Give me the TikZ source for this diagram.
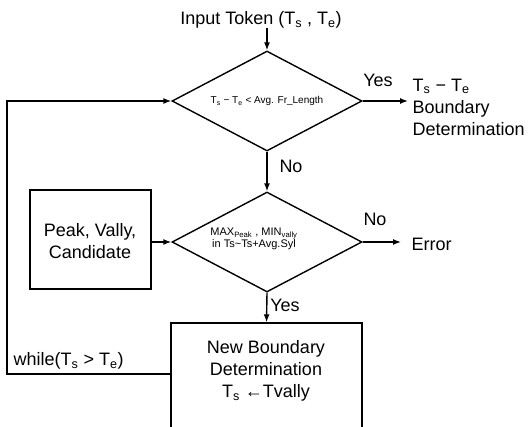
\documentclass[tikz,border=0pt]{standalone}
\usepackage{fontspec}
\setmainfont{Liberation Sans}
\usetikzlibrary{shapes.geometric,arrows.meta}
\begin{document}
\begin{tikzpicture}[x=1pt,y=-1pt,
  line width=1.4pt,
  big/.style={font=\fontsize{18}{22}\selectfont, inner sep=0pt},
  small/.style={font=\fontsize{11}{12}\selectfont, inner sep=0pt},
  smaller/.style={font=\fontsize{10}{12}\selectfont, inner sep=0pt},
  dia/.style={draw, diamond, aspect=1.9, minimum width=190pt, minimum height=100pt, inner sep=0pt},
  boxx/.style={draw, rectangle, inner sep=0pt},
  arr/.style={-{Latex[length=8pt,width=6pt]}}]
\path[use as bounding box] (0,0) rectangle (529,426);
\clip (0,0) rectangle (529,426);

\node[big] (input) at (261,20) {Input Token (T\textsubscript{s} , T\textsubscript{e})};
\node[dia, smaller] (d1) at (267,101) {T\textsubscript{s} − T\textsubscript{e} < Avg. Fr\_Length};
\coordinate (inp) at (267,28);
\draw[arr] (inp) -- (d1.north);

\node[big] (yes1) at (378,80) {Yes};
\coordinate (yes1end) at (408,101);
\draw[arr] (d1.east) -- (yes1end);
\node[big, anchor=west, align=left] (bd) at (412,107) {T\textsubscript{s} − T\textsubscript{e}\\Boundary\\Determination};

\node[dia] (d2) at (267,242) {};
\node[small, align=center] (d2t) at (254,239) {MAX\textsubscript{Peak} , MIN\textsubscript{vally}\\in Ts\textasciitilde Ts+Avg.Syl};
\draw[arr] (d1.south) -- (d2.north);
\node[big] (no1) at (291,166) {No};

\node[boxx, minimum width=121pt, minimum height=99pt] (peak) at (90.5,239.5) {};
\node[big, align=center] (peakt) at (90,241) {Peak, Vally,\\Candidate};
\coordinate (peakr) at (151,242);
\draw[arr] (peakr) -- (d2.west);

\node[big] (no2) at (375,219) {No};
\coordinate (no2end) at (401,242);
\draw[arr] (d2.east) -- (no2end);
\node[big, anchor=west] (err) at (411,244) {Error};

\node[big] (yes2) at (285,305) {Yes};
\node[boxx, minimum width=191pt, minimum height=112pt] (nb) at (266.5,379) {};
\draw[arr] (d2.south) -- (nb.north);
\node[big, align=center] (nbt) at (266,371) {New Boundary\\Determination\\T\textsubscript{s} ←Tvally};

\coordinate (lb) at (7,374);
\coordinate (lt) at (7,101);
\coordinate (nbl) at (nb.west |- lb);
\draw[arr] (nbl) -- (lb) -- (lt) -- (d1.west);
\node[big, anchor=west] (wh) at (13,361) {while(T\textsubscript{s} > T\textsubscript{e})};
\end{tikzpicture}
\end{document}
